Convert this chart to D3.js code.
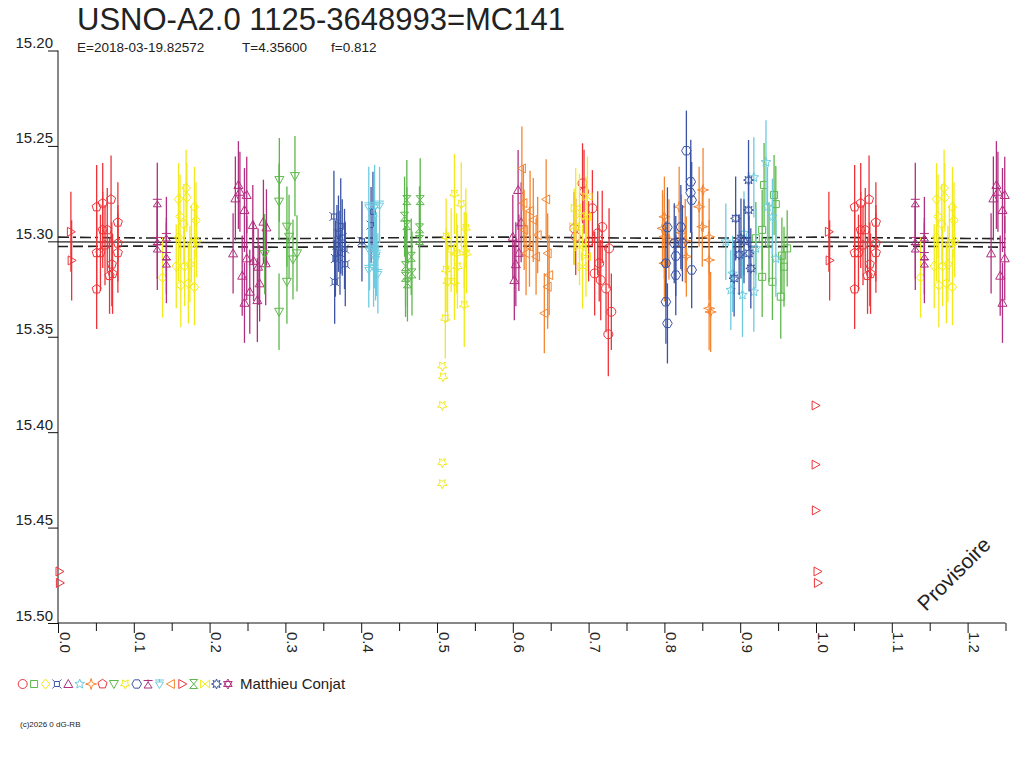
<!DOCTYPE html>
<html>
<head>
<meta charset="utf-8">
<script src="https://cdn.jsdelivr.net/npm/d3@7"></script>
<style>
  body { margin: 0; background: #fff; }
  svg { font-family: "Liberation Sans", Arial, sans-serif; }
</style>
</head>
<body>
<svg id="chart" width="1024" height="768"></svg>
<script>
// phase, magnitude, error -- one array per night (symbol)
const s01 = [[0.692,15.2696,0.021],[0.694,15.274,0.022],[0.705,15.2827,0.020],[0.681,15.2932,0.019],[0.683,15.2976,0.020],[0.712,15.2958,0.022],[0.727,15.3037,0.021],[0.714,15.3115,0.020],[0.708,15.3168,0.022],[0.716,15.3203,0.021],[0.723,15.3247,0.023],[0.730,15.3369,0.020],[0.726,15.3487,0.022],[0.700,15.3000,0.021],[0.718,15.2925,0.019]]
const s02 = [[0.9315,15.2705,0.022],[0.9447,15.2757,0.021],[0.947,15.2805,0.020],[0.929,15.294,0.021],[0.9206,15.2984,0.019],[0.962,15.3037,0.020],[0.929,15.3186,0.021],[0.9425,15.3212,0.020],[0.9535,15.329,0.022],[0.9578,15.3133,0.021],[0.955,15.3075,0.020],[0.938,15.3005,0.021]]
const s03 = [[0.159,15.278,0.019],[0.169,15.272,0.020],[0.170,15.277,0.018],[0.180,15.282,0.021],[0.182,15.289,0.020],[0.161,15.287,0.022],[0.166,15.291,0.021],[0.159,15.298,0.023],[0.183,15.300,0.019],[0.176,15.301,0.020],[0.156,15.313,0.022],[0.167,15.313,0.021],[0.174,15.312,0.020],[0.138,15.319,0.021],[0.162,15.323,0.022],[0.172,15.322,0.021],[0.180,15.324,0.020]]
const s04 = [[0.364,15.287,0.024],[0.365,15.3212,0.022],[0.370,15.296,0.020],[0.368,15.302,0.021],[0.372,15.306,0.022],[0.375,15.298,0.020],[0.378,15.304,0.021],[0.366,15.309,0.020],[0.373,15.292,0.025],[0.379,15.312,0.022],[0.401,15.300,0.021],[0.413,15.2915,0.020],[0.4155,15.2845,0.021]]
const s05 = [[0.234,15.2775,0.022],[0.238,15.2705,0.023],[0.240,15.274,0.021],[0.249,15.2757,0.020],[0.246,15.2836,0.022],[0.257,15.2915,0.021],[0.271,15.2897,0.022],[0.275,15.2927,0.020],[0.231,15.3063,0.021],[0.249,15.3089,0.022],[0.258,15.3102,0.021],[0.264,15.3133,0.020],[0.274,15.3115,0.022],[0.243,15.318,0.021],[0.266,15.322,0.020],[0.253,15.3264,0.022],[0.246,15.3322,0.021],[0.263,15.3308,0.022],[0.607,15.2731,0.021],[0.600,15.2976,0.022],[0.602,15.3203,0.021],[0.608,15.306,0.020],[0.611,15.290,0.021],[0.604,15.312,0.022]]
const s06 = [[0.934,15.2586,0.022],[0.918,15.2665,0.021],[0.881,15.3002,0.020],[0.936,15.2819,0.021],[0.9425,15.2871,0.020],[0.905,15.2958,0.022],[0.9206,15.3037,0.021],[0.947,15.309,0.020],[0.8876,15.3255,0.021],[0.903,15.3281,0.022],[0.918,15.3264,0.021],[0.890,15.3170,0.020]]
const s07 = [[0.800,15.2871,0.021],[0.7975,15.2932,0.020],[0.800,15.2976,0.022],[0.8195,15.2819,0.021],[0.8225,15.2955,0.020],[0.8275,15.2998,0.022],[0.829,15.3080,0.021],[0.800,15.3115,0.020],[0.8458,15.2819,0.021],[0.851,15.2731,0.022],[0.850,15.2923,0.021],[0.859,15.2976,0.020],[0.859,15.3098,0.021],[0.859,15.3351,0.022],[0.861,15.3370,0.021],[0.806,15.2990,0.021]]
const s08 = [[0.051,15.282,0.022],[0.059,15.280,0.021],[0.070,15.278,0.023],[0.079,15.290,0.021],[0.059,15.294,0.020],[0.065,15.294,0.022],[0.062,15.302,0.021],[0.051,15.306,0.022],[0.079,15.301,0.020],[0.079,15.306,0.021],[0.071,15.312,0.022],[0.072,15.317,0.021],[0.068,15.318,0.020],[0.051,15.325,0.021],[0.056,15.306,0.020]]
const s09 = [[0.292,15.2679,0.022],[0.3126,15.2658,0.021],[0.2916,15.2792,0.020],[0.302,15.2923,0.021],[0.3048,15.2976,0.022],[0.3153,15.3063,0.020],[0.310,15.3095,0.021],[0.302,15.3212,0.022],[0.2916,15.3369,0.020],[0.2727,15.3067,0.021]]
const s10 = [[0.523,15.2752,0.021],[0.532,15.2805,0.022],[0.538,15.2932,0.021],[0.512,15.2976,0.020],[0.5187,15.3046,0.022],[0.526,15.3063,0.021],[0.536,15.3046,0.020],[0.539,15.3063,0.021],[0.512,15.315,0.022],[0.514,15.3212,0.021],[0.523,15.3212,0.020],[0.527,15.3133,0.022],[0.511,15.3404,0.021],[0.536,15.3334,0.022],[0.507,15.3654,0],[0.508,15.371,0],[0.507,15.386,0],[0.507,15.416,0],[0.507,15.427,0]]
const s11 = [[0.829,15.2525,0.021],[0.8348,15.2688,0.022],[0.8345,15.2745,0.021],[0.836,15.2784,0.020],[0.804,15.2927,0.021],[0.8217,15.2925,0.022],[0.813,15.301,0.021],[0.8238,15.301,0.020],[0.815,15.3077,0.021],[0.802,15.3115,0.022],[0.815,15.3177,0.021],[0.836,15.315,0.020],[0.802,15.3317,0.022],[0.804,15.343,0.021]]
const s12 = [[0.131,15.2798,0.021],[0.131,15.2998,0.020],[0.131,15.3035,0.022],[0.143,15.2977,0.021],[0.143,15.3077,0.020],[0.143,15.3114,0.021]]
const s13 = [[0.410,15.2819,0.021],[0.4177,15.2819,0.022],[0.4242,15.281,0.020],[0.411,15.3046,0.021],[0.4177,15.3046,0.020],[0.419,15.309,0.022],[0.4163,15.3133,0.021],[0.410,15.3147,0.020],[0.422,15.3168,0.021],[0.420,15.3067,0.022]]
const s14 = [[0.612,15.2618,0.022],[0.644,15.278,0.021],[0.614,15.280,0.020],[0.6228,15.284,0.021],[0.627,15.2888,0.022],[0.615,15.294,0.021],[0.6328,15.2967,0.020],[0.622,15.3028,0.021],[0.6175,15.3063,0.022],[0.646,15.3063,0.021],[0.6307,15.308,0.020],[0.648,15.3177,0.021],[0.646,15.3238,0.022],[0.6416,15.3377,0.021]]
const s15 = [[0.017,15.295,0.021],[0.018,15.310,0.021],[0.9995,15.386,0],[0.9995,15.417,0],[0.9998,15.441,0],[0.002,15.473,0],[0.0025,15.479,0]]
const s16 = [[0.4602,15.2784,0.021],[0.4778,15.2784,0.022],[0.4572,15.2871,0.021],[0.4602,15.2915,0.020],[0.4769,15.2932,0.022],[0.4769,15.2993,0.021],[0.466,15.3081,0.020],[0.4585,15.313,0.021],[0.467,15.3168,0.022],[0.4585,15.3186,0.021],[0.461,15.322,0.020]]
const s17 = [[0.683,15.2826,0.021],[0.681,15.2923,0.020],[0.688,15.2866,0.022],[0.6965,15.2871,0.021],[0.688,15.303,0.020],[0.6965,15.308,0.021],[0.692,15.3133,0.022],[0.6985,15.2766,0.021]]
const s18 = [[0.911,15.2679,0.021],[0.894,15.288,0.022],[0.911,15.2836,0.020],[0.8986,15.307,0.021],[0.9117,15.3063,0.020],[0.905,15.300,0.022],[0.914,15.3142,0.021],[0.892,15.3194,0.020],[0.901,15.2985,0.021]]
const s19 = []
const nights = [s01, s02, s03, s04, s05, s06, s07, s08, s09, s10, s11, s12, s13, s14, s15, s16, s17, s18, s19]

// fitted curve and its envelope
const fitPhase = [0, 0.1, 0.2, 0.3, 0.4, 0.5, 0.6, 0.7, 0.8, 0.9, 1.0, 1.1, 1.2, 1.25]
const fitMean = [15.3003, 15.3004, 15.3006, 15.3007, 15.3005, 15.3003, 15.3002, 15.3004, 15.3006, 15.3005, 15.3003, 15.3004, 15.3006, 15.3007]
const fitUpper = [15.2978, 15.2982, 15.2985, 15.2986, 15.2983, 15.2979, 15.2978, 15.2981, 15.2984, 15.2982, 15.2978, 15.2982, 15.2985, 15.2986]
const fitLower = [15.3027, 15.3025, 15.3028, 15.3031, 15.3028, 15.3026, 15.3025, 15.3027, 15.3029, 15.3028, 15.3027, 15.3025, 15.3028, 15.3031]

const xTicks = [0, 0.1, 0.2, 0.3, 0.4, 0.5, 0.6, 0.7, 0.8, 0.9, 1.0, 1.1, 1.2]
const xMinor = [0.05, 0.15, 0.25, 0.35, 0.45, 0.55, 0.65, 0.75, 0.85, 0.95, 1.05, 1.15, 1.25]
const yTicks = [15.20, 15.25, 15.30, 15.35, 15.40, 15.45, 15.50]

const title = 'USNO-A2.0 1125-3648993=MC141'
const subtitle = ['E=2018-03-19.82572', 'T=4.35600', 'f=0.812']
const observer = 'Matthieu Conjat'

// styles
const red = '#ee3338', green = '#5cb84a', yellow = '#f2ea1a', blue = '#3b54a4'
const purple = '#b12f80', cyan = '#6dcbe0', orange = '#f58631'
const nightColor = [red, green, yellow, blue, purple, cyan, orange, red, green, yellow,
  blue, purple, cyan, orange, red, green, yellow, blue, purple]
const nightShape = ['circle', 'square', 'diamond', 'squareX', 'triUp', 'star5', 'star4', 'pentagon',
  'triDown', 'star5b', 'hexagon', 'tripod', 'triDownBar', 'triLeft', 'triRight', 'hourglass',
  'bowtie', 'star8', 'hexagram']

const poly = (pts) => 'M' + pts.map((p) => p[0].toFixed(2) + ',' + p[1].toFixed(2)).join('L') + 'Z'
function starPts(n, ro, ri, rot) {
  const pts = []
  for (let i = 0; i < 2 * n; i++) {
    const a = (rot + i * 180 / n) * Math.PI / 180
    const r = i % 2 ? ri : ro
    pts.push([r * Math.cos(a), r * Math.sin(a)])
  }
  return pts
}
function regPts(n, r, rot) {
  return d3.range(n).map((i) => {
    const a = (rot + i * 360 / n) * Math.PI / 180
    return [r * Math.cos(a), r * Math.sin(a)]
  })
}
const shapes = {
  circle: 'M4.5,0A4.5,4.5 0 1,1 -4.5,0A4.5,4.5 0 1,1 4.5,0Z',
  square: poly([[-3.5, -3.5], [3.5, -3.5], [3.5, 3.5], [-3.5, 3.5]]),
  diamond: poly([[0, -5], [4.2, 0], [0, 5], [-4.2, 0]]),
  squareX: poly([[-2.5, -2.5], [2.5, -2.5], [2.5, 2.5], [-2.5, 2.5]]) +
    'M-2.5,-2.5L-4.5,-4.5M2.5,-2.5L4.5,-4.5M2.5,2.5L4.5,4.5M-2.5,2.5L-4.5,4.5',
  triUp: poly([[0, -4.5], [4.5, 3.5], [-4.5, 3.5]]),
  star5: poly(starPts(5, 5, 2.2, -90)),
  star4: poly(starPts(4, 5.5, 1.8, -90)),
  pentagon: poly(regPts(5, 4.8, -90)),
  triDown: poly([[0, 4.5], [4.5, -3.5], [-4.5, -3.5]]),
  star5b: poly(starPts(5, 5, 2.4, 90)),
  hexagon: poly(regPts(6, 4.8, 0)),
  tripod: poly([[0, -2], [4, 4], [-4, 4]]) + 'M-4.5,-3.5L4.5,-3.5M0,-4.5L0,-2',
  triDownBar: poly([[0, 4.5], [4, -2], [-4, -2]]) + 'M-4.5,-4L4.5,-4M0,-5L0,-2',
  triLeft: poly([[-4.5, 0], [3.5, -4.5], [3.5, 4.5]]),
  triRight: poly([[4.5, 0], [-3.5, -4.5], [-3.5, 4.5]]),
  hourglass: poly([[-4, -4.5], [4, -4.5], [-4, 4.5], [4, 4.5]]),
  bowtie: poly([[-4.5, -4], [4.5, 4], [4.5, -4], [-4.5, 4]]),
  star8: poly(starPts(8, 5, 2.6, -90)),
  hexagram: poly([[0, -5], [4.3, 2.5], [-4.3, 2.5]]) + poly([[0, 5], [4.3, -2.5], [-4.3, -2.5]]),
}

const svg = d3.select('#chart')
const x = d3.scaleLinear().domain([0, 1.25]).range([58, 1005.5])
const y = d3.scaleLinear().domain([15.20, 15.50]).range([50.5, 623])

// axes
const gy = svg.append('g')
  .attr('transform', `translate(${x(0)},0)`)
  .call(d3.axisLeft(y).tickValues(yTicks).tickSize(10).tickFormat(d3.format('.2f')))
gy.select('.domain').attr('d', `M0,${y(15.20)}V${y(15.50)}`)
gy.selectAll('text')
  .attr('x', -5).attr('y', -3).attr('dy', 0)
  .style('font-size', '15px').attr('fill', '#222')

const gx = svg.append('g')
  .attr('transform', `translate(0,${y(15.50)})`)
  .call(d3.axisBottom(x).tickValues(xTicks).tickSize(10).tickFormat(d3.format('.1f')))
gx.select('.domain').attr('d', `M${x(0)},0H${x(1.25)}`)
gx.selectAll('text')
  .attr('transform', 'rotate(90)')
  .attr('x', 9).attr('y', -1).attr('dy', 0)
  .style('text-anchor', 'start')
  .style('font-size', '15px').attr('fill', '#222')
svg.append('g')
  .attr('transform', `translate(0,${y(15.50)})`)
  .call(d3.axisBottom(x).tickValues(xMinor).tickSize(8).tickFormat(''))
  .select('.domain').remove()
svg.selectAll('.tick line').attr('stroke', '#111')
svg.selectAll('.domain').attr('stroke', '#111')

// fit lines
const fitLine = (vals) => d3.line()
  .x((d, i) => x(fitPhase[i]))
  .y((d) => y(d))(vals)
svg.append('path').attr('d', fitLine(fitMean))
  .attr('fill', 'none').attr('stroke', '#222').attr('stroke-width', 1.3)
svg.append('path').attr('d', fitLine(fitUpper))
  .attr('fill', 'none').attr('stroke', '#222').attr('stroke-width', 1.6)
  .attr('stroke-dasharray', '11,4,3,4')
svg.append('path').attr('d', fitLine(fitLower))
  .attr('fill', 'none').attr('stroke', '#222').attr('stroke-width', 1.6)
  .attr('stroke-dasharray', '10,5')

// observations, folded: each point also drawn one cycle later
const marks = svg.append('g')
nights.forEach((pts, k) => {
  const folded = pts.flatMap((d) => [d, [d[0] + 1, d[1], d[2]]])
    .filter((d) => d[0] >= 0 && d[0] <= 1.25)
  const g = marks.append('g')
  g.selectAll('line')
    .data(folded.filter((d) => d[2] > 0))
    .enter().append('line')
    .attr('x1', (d) => x(d[0])).attr('x2', (d) => x(d[0]))
    .attr('y1', (d) => y(d[1] - d[2])).attr('y2', (d) => y(d[1] + d[2]))
    .attr('stroke', nightColor[k]).attr('stroke-width', 1.3)
  g.selectAll('path')
    .data(folded)
    .enter().append('path')
    .attr('d', shapes[nightShape[k]])
    .attr('transform', (d) => `translate(${x(d[0])},${y(d[1])})`)
    .attr('fill', 'none').attr('stroke', nightColor[k]).attr('stroke-width', 1)
})

// titles
svg.append('text').attr('x', 77).attr('y', 30)
  .style('font-size', '31px').attr('fill', '#222').text(title)
svg.append('g').selectAll('text')
  .data(subtitle).enter().append('text')
  .attr('x', (d, i) => [77, 242, 331][i]).attr('y', 52)
  .style('font-size', '13.5px').attr('fill', '#222').text((d) => d)

svg.append('text')
  .attr('transform', 'translate(926,612) rotate(-45)')
  .style('font-size', '21px').attr('fill', '#222').text('Provisoire')

// legend
const legend = svg.append('g')
legend.selectAll('path')
  .data(nightShape).enter().append('path')
  .attr('d', (d) => shapes[d])
  .attr('transform', (d, i) => `translate(${22.7 + i * 11.4},684)`)
  .attr('fill', 'none').attr('stroke', (d, i) => nightColor[i]).attr('stroke-width', 1)
legend.append('text').attr('x', 240).attr('y', 689)
  .style('font-size', '15px').attr('fill', '#222').text(observer)

svg.append('text').attr('x', 20).attr('y', 727)
  .style('font-size', '8px').attr('fill', '#222').text('(c)2026 0 dG-RB')
</script>
</body>
</html>
